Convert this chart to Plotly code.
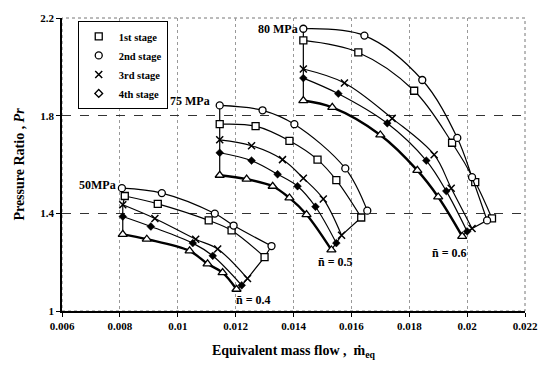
import plotly.graph_objects as go

# ---- data ----
stage_names = ["1st stage", "2nd stage", "3rd stage", "4th stage"]

# 50 MPa group (n = 0.4)
p50_s1_x = [0.00817, 0.00931, 0.01107, 0.01186, 0.01300]
p50_s1_y = [1.471, 1.439, 1.371, 1.330, 1.221]
p50_s2_x = [0.00807, 0.00945, 0.01128, 0.01193, 0.01324]
p50_s2_y = [1.503, 1.483, 1.399, 1.350, 1.266]
p50_s3_x = [0.00810, 0.00921, 0.01062, 0.01138, 0.01241]
p50_s3_y = [1.435, 1.379, 1.294, 1.254, 1.133]
p50_s4_x = [0.00810, 0.00907, 0.01052, 0.01121, 0.01221]
p50_s4_y = [1.387, 1.346, 1.278, 1.226, 1.105]
p50_all_x = [0.00810, 0.00893, 0.01041, 0.01103, 0.01155, 0.01203]
p50_all_y = [1.314, 1.294, 1.246, 1.193, 1.157, 1.089]

# 75 MPa group (n = 0.5)
p75_s1_x = [0.01145, 0.01269, 0.01386, 0.01483, 0.01548, 0.01634]
p75_s1_y = [1.765, 1.757, 1.697, 1.620, 1.536, 1.383]
p75_s2_x = [0.01145, 0.01293, 0.01403, 0.01579, 0.01655]
p75_s2_y = [1.842, 1.822, 1.765, 1.584, 1.411]
p75_s3_x = [0.01145, 0.01255, 0.01362, 0.01434, 0.01503, 0.01566]
p75_s3_y = [1.701, 1.677, 1.620, 1.544, 1.459, 1.310]
p75_s4_x = [0.01145, 0.01255, 0.01345, 0.01414, 0.01476, 0.01548]
p75_s4_y = [1.648, 1.616, 1.560, 1.511, 1.427, 1.278]
p75_all_x = [0.01145, 0.01238, 0.01328, 0.01386, 0.01445, 0.01531]
p75_all_y = [1.556, 1.540, 1.511, 1.463, 1.395, 1.250]

# 80 MPa group (n = 0.6)
p80_s1_x = [0.01434, 0.01624, 0.01817, 0.01948, 0.02028, 0.02086]
p80_s1_y = [2.108, 2.059, 1.902, 1.689, 1.528, 1.379]
p80_s2_x = [0.01434, 0.01645, 0.01845, 0.01966, 0.02017, 0.02069]
p80_s2_y = [2.156, 2.128, 1.946, 1.709, 1.548, 1.371]
p80_s3_x = [0.01434, 0.01576, 0.01741, 0.01886, 0.01945, 0.02017]
p80_s3_y = [1.991, 1.934, 1.789, 1.640, 1.503, 1.338]
p80_s4_x = [0.01434, 0.01555, 0.01724, 0.01859, 0.01928, 0.02000]
p80_s4_y = [1.954, 1.890, 1.769, 1.616, 1.491, 1.326]
p80_all_x = [0.01434, 0.01534, 0.01700, 0.01828, 0.01900, 0.01983]
p80_all_y = [1.862, 1.834, 1.721, 1.576, 1.467, 1.306]

x_ticks = [0.006, 0.008, 0.01, 0.012, 0.014, 0.016, 0.018, 0.02, 0.022]
x_tick_text = ["0.006", "0.008", "0.01", "0.012", "0.014", "0.016", "0.018", "0.02", "0.022"]
y_ticks = [1.0, 1.4, 1.8, 2.2]
y_tick_text = ["1", "1.4", "1.8", "2.2"]

group_labels = ["50MPa", "75 MPa", "80 MPa"]
group_label_x = [0.00721, 0.01041, 0.01345]
group_label_y = [1.515, 1.862, 2.156]
n_labels = ["n\u0304 = 0.4", "n\u0304 = 0.5", "n\u0304 = 0.6"]
n_label_x = [0.01262, 0.01545, 0.01940]
n_label_y = [1.044, 1.201, 1.238]

# ---- styles ----
FONT = "Liberation Serif"
styles = [
    dict(symbol="square", size=7, color="white", line=dict(color="black", width=1.3)),
    dict(symbol="circle", size=7, color="white", line=dict(color="black", width=1.3)),
    dict(symbol="x-thin", size=7, color="black", line=dict(color="black", width=1.5)),
    dict(symbol="diamond", size=6, color="black", line=dict(color="black", width=0.5)),
    dict(symbol="triangle-up", size=8, color="white", line=dict(color="black", width=1.3)),
]

fig = go.Figure()

groups = [
    [(p50_s1_x, p50_s1_y), (p50_s2_x, p50_s2_y), (p50_s3_x, p50_s3_y), (p50_s4_x, p50_s4_y), (p50_all_x, p50_all_y)],
    [(p75_s1_x, p75_s1_y), (p75_s2_x, p75_s2_y), (p75_s3_x, p75_s3_y), (p75_s4_x, p75_s4_y), (p75_all_x, p75_all_y)],
    [(p80_s1_x, p80_s1_y), (p80_s2_x, p80_s2_y), (p80_s3_x, p80_s3_y), (p80_s4_x, p80_s4_y), (p80_all_x, p80_all_y)],
]

for grp in groups:
    # surge (start) and choke (end) boundary lines
    starts = sorted([(xs[0], ys[0]) for xs, ys in grp], key=lambda p: -p[1])
    ends = sorted([(xs[-1], ys[-1]) for xs, ys in grp], key=lambda p: -p[1])
    for pts in (starts, ends):
        fig.add_trace(go.Scatter(x=[p[0] for p in pts], y=[p[1] for p in pts], mode="lines",
                                 line=dict(color="black", width=1.2), showlegend=False, hoverinfo="skip"))
    for i, (xs, ys) in enumerate(grp):
        fig.add_trace(go.Scatter(
            x=xs, y=ys, mode="lines+markers",
            line=dict(color="black", width=2.4 if i == 4 else 1.2, shape="spline", smoothing=1.0),
            marker=styles[i], showlegend=False))

# legend-only traces
for i, name in enumerate(stage_names):
    m = dict(styles[i])
    if i == 3:
        m = dict(symbol="diamond", size=6, color="white", line=dict(color="black", width=1.3))
    fig.add_trace(go.Scatter(x=[None], y=[None], mode="markers", marker=m, name=name))

for t, x, y in zip(group_labels, group_label_x, group_label_y):
    fig.add_annotation(x=x, y=y, text=t, showarrow=False,
                       font=dict(family=FONT, size=12, color="black", weight="bold"))
for t, x, y in zip(n_labels, n_label_x, n_label_y):
    fig.add_annotation(x=x, y=y, text=t, showarrow=False,
                       font=dict(family=FONT, size=12, color="black", weight="bold"))

fig.update_layout(
    width=550, height=368,
    margin=dict(l=62, r=24, t=13, b=57),
    paper_bgcolor="white", plot_bgcolor="white",
    font=dict(family=FONT, color="black"),
    legend=dict(x=0.034, y=0.99, xanchor="left", yanchor="top",
                bgcolor="white", bordercolor="black", borderwidth=1,
                font=dict(family=FONT, size=10.5, weight="bold"),
                tracegroupgap=0, itemwidth=30),
    xaxis=dict(range=[0.006, 0.022], tickvals=x_ticks, ticktext=x_tick_text,
               showgrid=True, gridcolor="#999", griddash="dot", gridwidth=1,
               showline=True, linecolor="black", linewidth=1.5, mirror=False,
               ticks="outside", ticklen=4, tickcolor="black", ticklabeloverflow="allow",
               tickfont=dict(family=FONT, size=11, weight="bold"), zeroline=False,
               title=dict(text="Equivalent mass flow ,  \u1e41<sub>eq</sub>",
                          font=dict(family=FONT, size=14, weight="bold"), standoff=14)),
    yaxis=dict(range=[1.0, 2.2], tickvals=y_ticks, ticktext=y_tick_text,
               showgrid=True, gridcolor="#333", griddash="dash", gridwidth=1,
               showline=True, linecolor="black", linewidth=1.5,
               ticks="outside", ticklen=4, tickcolor="black",
               tickfont=dict(family=FONT, size=11, weight="bold"), zeroline=False,
               title=dict(text="Pressure Ratio , <i>Pr</i>",
                          font=dict(family=FONT, size=14, weight="bold"), standoff=12)),
)

# dashed frame on top/right
fig.add_shape(type="rect", xref="paper", yref="paper", x0=0, y0=0, x1=1, y1=1,
              line=dict(color="#777", width=1, dash="dot"), layer="below")

fig.write_html("out.html", config={"displayModeBar": False},
               post_script="document.body.style.margin='0';")
